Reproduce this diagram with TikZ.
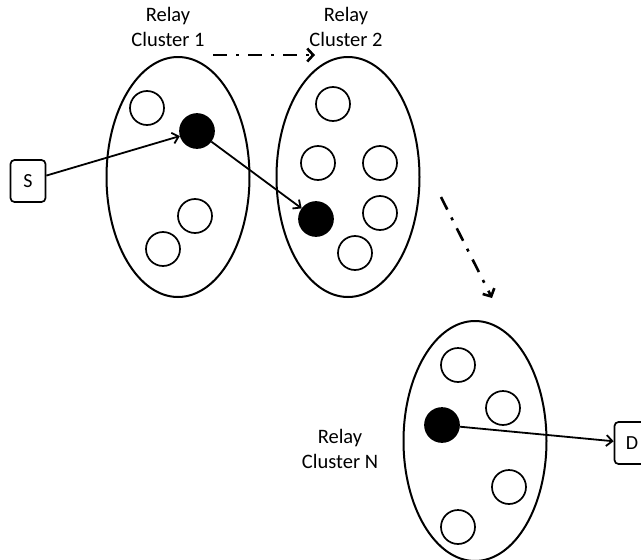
\documentclass[tikz,border=0pt]{standalone}
\usepackage{fontspec}
\setmainfont{Carlito}
\usepackage{tikz}
\usetikzlibrary{shapes,arrows.meta}
\tikzstyle{cluster}=[ellipse, draw=black, line width=2pt, inner sep=0pt,
minimum width=143pt, minimum height=240pt]
\tikzstyle{relay}=[circle, draw=black, line width=1.7pt, inner sep=0pt, minimum size=34pt]
\tikzstyle{chosen}=[relay, fill=black]
\tikzstyle{terminal}=[rectangle, draw=black, rounded corners=4pt, line width=1.7pt,
minimum width=35pt, minimum height=42pt, font=\fontsize{20}{25}\selectfont]
\tikzstyle{caption}=[align=center, font=\fontsize{20.5}{25}\selectfont]
\tikzstyle{hop}=[line width=1.8pt, -{Straight Barb[length=6pt,width=11pt]}]
\tikzstyle{skip}=[line width=2.6pt, dash pattern=on 14pt off 9pt on 3pt off 9pt,
-{Straight Barb[length=6pt,width=13pt]}]

\begin{document}
\begin{tikzpicture}[x=1pt, y=-1pt]
            \useasboundingbox (0,0) rectangle (641,560);
            \clip (0,0) rectangle (641,560);
            % clusters
            \node (c1)[cluster] at (178,177) {};
            \node (c2)[cluster] at (348,177) {};
            \node (cn)[cluster] at (475,441) {};
            \node (t1)[caption] at (168,27) {Relay\\Cluster 1};
            \node (t2)[caption] at (346,27) {Relay\\Cluster 2};
            \node (tn)[caption] at (340,449) {Relay\\Cluster N};
            % relays
            \node (r11)[relay] at (147,108) {};
            \node (r12)[chosen] at (197,131) {};
            \node (r13)[relay] at (195,216) {};
            \node (r14)[relay] at (163,249) {};
            \node (r21)[relay] at (333,104) {};
            \node (r22)[relay] at (318,163) {};
            \node (r23)[relay] at (380,163) {};
            \node (r24)[chosen] at (316,219) {};
            \node (r25)[relay] at (380,213) {};
            \node (r26)[relay] at (355,253) {};
            \node (rn1)[relay] at (458,365) {};
            \node (rn2)[relay] at (503,408) {};
            \node (rn3)[chosen] at (442,425) {};
            \node (rn4)[relay] at (509,487) {};
            \node (rn5)[relay] at (458,527) {};
            % source and destination
            \node (s)[terminal] at (28,181) {S};
            \node (d)[terminal] at (632,443) {D};
            \coordinate (a1) at (213,55);
            \coordinate (a2) at (315,55);
            \coordinate (b1) at (441,197);
            \coordinate (b2) at (492,298);
            \draw[hop] (s) -- (r12);
            \draw[hop] (r12) -- (r24);
            \draw[hop] (rn3) -- (d);
            \draw[skip] (a1) -- (a2);
            \draw[skip] (b1) -- (b2);
        \end{tikzpicture}
\end{document}
